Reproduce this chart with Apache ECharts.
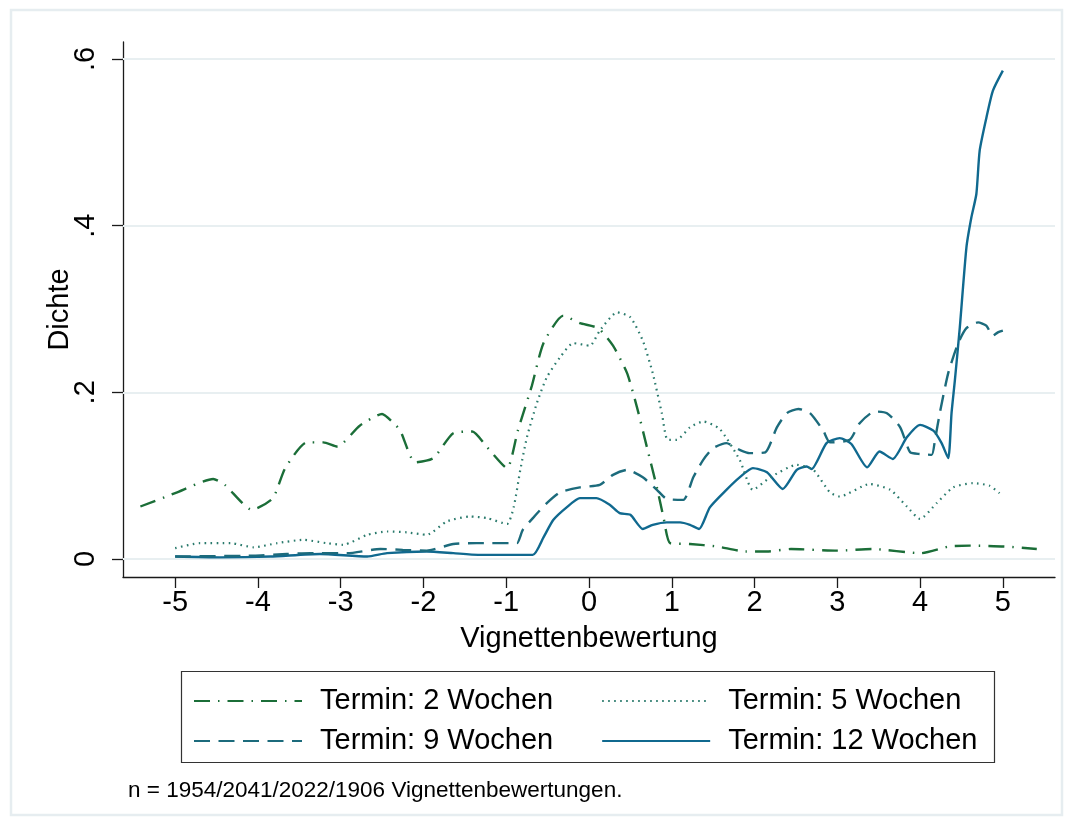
<!DOCTYPE html>
<html>
<head>
<meta charset="utf-8">
<script src="https://cdn.jsdelivr.net/npm/echarts@6/dist/echarts.min.js"></script>
<style>html,body{margin:0;padding:0;background:#fff}#c{width:1072px;height:825px}</style>
</head>
<body>
<div id="c"></div>
<script>
// ---- data ----
const seriesNames = ['Termin: 2 Wochen', 'Termin: 5 Wochen', 'Termin: 9 Wochen', 'Termin: 12 Wochen'];

const x2w = [-5.42,-5.0,-4.54,-4.40,-4.07,-3.82,-3.67,-3.41,-3.21,-3.04,-2.77,-2.50,-2.37,-2.28,-2.10,-1.88,-1.64,-1.41,-1.23,-0.99,-0.86,-0.69,-0.55,-0.31,-0.11,0.11,0.29,0.46,0.58,0.70,0.82,0.90,0.98,1.22,1.55,1.89,2.15,2.44,3.00,3.42,4.01,4.35,4.60,5.02,5.41];
const y2w = [0.063,0.079,0.096,0.089,0.059,0.073,0.109,0.140,0.140,0.135,0.160,0.174,0.164,0.154,0.116,0.121,0.151,0.153,0.134,0.109,0.154,0.208,0.259,0.292,0.283,0.277,0.256,0.223,0.182,0.134,0.086,0.050,0.019,0.018,0.015,0.009,0.009,0.012,0.010,0.012,0.007,0.015,0.016,0.015,0.012];

const x5w = [-5.0,-4.70,-4.33,-4.05,-3.77,-3.45,-3.17,-2.97,-2.68,-2.44,-2.20,-1.96,-1.72,-1.44,-1.23,-0.99,-0.91,-0.83,-0.75,-0.63,-0.51,-0.35,-0.19,0.01,0.13,0.34,0.50,0.65,0.77,0.88,0.95,1.06,1.22,1.38,1.58,1.82,1.98,2.19,2.51,2.71,2.91,3.03,3.39,3.64,3.84,4.00,4.20,4.40,4.64,4.84,4.96];
const y5w = [0.013,0.019,0.019,0.014,0.019,0.023,0.019,0.017,0.029,0.033,0.032,0.029,0.045,0.051,0.049,0.042,0.062,0.107,0.146,0.187,0.218,0.242,0.259,0.256,0.274,0.296,0.290,0.262,0.223,0.175,0.143,0.143,0.158,0.165,0.156,0.119,0.083,0.098,0.113,0.107,0.080,0.075,0.090,0.083,0.063,0.048,0.067,0.086,0.091,0.088,0.079];

const x9w = [-5.0,-4.05,-3.65,-3.37,-2.92,-2.52,-2.25,-1.96,-1.64,-1.36,-0.95,-0.87,-0.80,-0.67,-0.51,-0.35,-0.11,0.13,0.29,0.46,0.65,0.82,0.94,1.14,1.26,1.38,1.50,1.66,1.82,1.94,2.13,2.27,2.39,2.53,2.67,2.83,2.91,3.15,3.27,3.45,3.60,3.76,3.88,4.00,4.14,4.18,4.24,4.34,4.46,4.56,4.70,4.80,4.88,4.94,5.00];
const y9w = [0.003,0.004,0.006,0.007,0.007,0.012,0.011,0.010,0.018,0.019,0.019,0.019,0.035,0.050,0.067,0.080,0.086,0.089,0.101,0.107,0.098,0.083,0.072,0.071,0.098,0.119,0.133,0.139,0.131,0.127,0.128,0.158,0.175,0.180,0.175,0.154,0.140,0.143,0.163,0.177,0.175,0.158,0.128,0.126,0.125,0.143,0.176,0.223,0.259,0.277,0.284,0.280,0.268,0.272,0.274];

const x12w = [-5.0,-4.46,-3.85,-3.25,-2.68,-2.44,-1.96,-1.64,-1.34,-0.68,-0.55,-0.43,-0.27,-0.11,0.09,0.25,0.37,0.50,0.65,0.77,0.94,1.10,1.22,1.33,1.46,1.66,1.82,1.98,2.15,2.34,2.51,2.63,2.69,2.87,3.03,3.17,3.36,3.51,3.67,3.84,4.00,4.16,4.26,4.34,4.38,4.42,4.48,4.56,4.62,4.68,4.72,4.80,4.88,5.00];
const y12w = [0.003,0.002,0.003,0.006,0.003,0.007,0.009,0.007,0.005,0.005,0.026,0.047,0.062,0.073,0.073,0.065,0.055,0.053,0.036,0.041,0.044,0.044,0.041,0.036,0.062,0.083,0.098,0.109,0.104,0.084,0.107,0.111,0.108,0.139,0.145,0.138,0.110,0.129,0.120,0.146,0.161,0.154,0.139,0.121,0.175,0.214,0.278,0.374,0.410,0.438,0.490,0.529,0.562,0.586];

const xTickValues = [-5,-4,-3,-2,-1,0,1,2,3,4,5];
const xTickLabels = ['-5','-4','-3','-2','-1','0','1','2','3','4','5'];
const yTickValues = [0, 0.2, 0.4, 0.6];
const yTickLabels = ['0', '.2', '.4', '.6'];
const xTitle = 'Vignettenbewertung';
const yTitle = 'Dichte';
const noteText = 'n = 1954/2041/2022/1906 Vignettenbewertungen.';

// ---- chart ----
const pairs = (xs, ys) => xs.map((x, i) => [x, ys[i]]);
const FONT = '"Liberation Sans", Arial, sans-serif';
const colors = ['#1b6e38', '#2a7a6c', '#1c6b7c', '#10698f'];
const styles = [
  { type: [16, 8, 1.5, 8], width: 2.4 },
  { type: [1.6, 4.4], width: 2.2 },
  { type: [16, 8.5], width: 2.4 },
  { type: 'solid', width: 2.4 }
];
const xs = [x2w, x5w, x9w, x12w];
const ys = [y2w, y5w, y9w, y12w];

const chart = echarts.init(document.getElementById('c'), null, { renderer: 'canvas' });

const series = seriesNames.map((name, i) => ({
  name,
  type: 'line',
  data: pairs(xs[i], ys[i]),
  showSymbol: false,
  symbol: 'none',
  smooth: 0.2,
  z: 10 - i,
  lineStyle: { color: colors[i], width: styles[i].width, type: styles[i].type, cap: 'butt' },
  itemStyle: { color: colors[i] }
}));

const legendCommon = {
  orient: 'horizontal',
  left: 193,
  itemWidth: 108,
  itemHeight: 14,
  itemGap: 48,
  padding: 0,
  selectedMode: false,
  itemStyle: { opacity: 0 },
  textStyle: { fontFamily: FONT, fontSize: 29, color: '#000', padding: [0, 0, 0, 13], lineHeight: 32 }
};

chart.setOption({
  animation: false,
  backgroundColor: '#fff',
  color: colors,
  grid: { left: 123, right: 17, top: 42, bottom: 248, containLabel: false },
  xAxis: {
    type: 'value',
    min: -5.63, max: 5.63,
    name: xTitle,
    nameLocation: 'middle',
    nameGap: 47,
    nameTextStyle: { fontFamily: FONT, fontSize: 29, color: '#000' },
    axisLine: { show: true, onZero: false, lineStyle: { color: '#1a1a1a', width: 1.3 } },
    axisTick: { show: true, length: 11, customValues: xTickValues, lineStyle: { color: '#1a1a1a', width: 1.3 } },
    axisLabel: { customValues: xTickValues, margin: 11, fontFamily: FONT, fontSize: 29, color: '#000',
      formatter: v => { const k = xTickValues.indexOf(Math.round(v)); return k >= 0 ? xTickLabels[k] : ''; } },
    splitLine: { show: false }
  },
  yAxis: {
    type: 'value',
    min: -0.0216, max: 0.6204,
    name: yTitle,
    nameLocation: 'middle',
    nameMoveOverlap: false,
    nameGap: 49,
    nameTextStyle: { fontFamily: FONT, fontSize: 29, color: '#000' },
    axisLine: { show: true, onZero: false, lineStyle: { color: '#1a1a1a', width: 1.3 } },
    axisTick: { show: true, length: 11, customValues: yTickValues, lineStyle: { color: '#1a1a1a', width: 1.3 } },
    axisLabel: { customValues: yTickValues, rotate: 90, margin: 23, fontFamily: FONT, fontSize: 29, color: '#000',
      formatter: v => { let k = -1; yTickValues.forEach((t, j) => { if (Math.abs(t - v) < 1e-6) k = j; }); return k >= 0 ? yTickLabels[k] : ''; } },
    splitLine: { show: false }
  },
  legend: [
    Object.assign({}, legendCommon, { top: 685, data: [seriesNames[0], seriesNames[1]] }),
    Object.assign({}, legendCommon, { top: 725, data: [seriesNames[2], seriesNames[3]] })
  ],
  series: series.concat([{
    name: '_grid',
    type: 'line',
    data: [],
    silent: true,
    z: 1,
    markLine: {
      silent: true,
      symbol: 'none',
      label: { show: false },
      lineStyle: { color: '#e8eff1', width: 2, type: 'solid' },
      data: yTickValues.map(v => ({ yAxis: v }))
    }
  }]),
  graphic: [
    { type: 'rect', shape: { x: 11, y: 10, width: 1051, height: 805 }, style: { fill: 'none', stroke: '#e6edf0', lineWidth: 2.5 }, z: -10 },
    { type: 'rect', shape: { x: 181.5, y: 671.5, width: 813, height: 91 }, style: { fill: 'none', stroke: '#333', lineWidth: 1.2 }, z: -5 },
    { type: 'text', left: 128, top: 779, style: { text: noteText, fontFamily: FONT, fontSize: 22.5, fill: '#000' } }
  ]
});
</script>
</body>
</html>
